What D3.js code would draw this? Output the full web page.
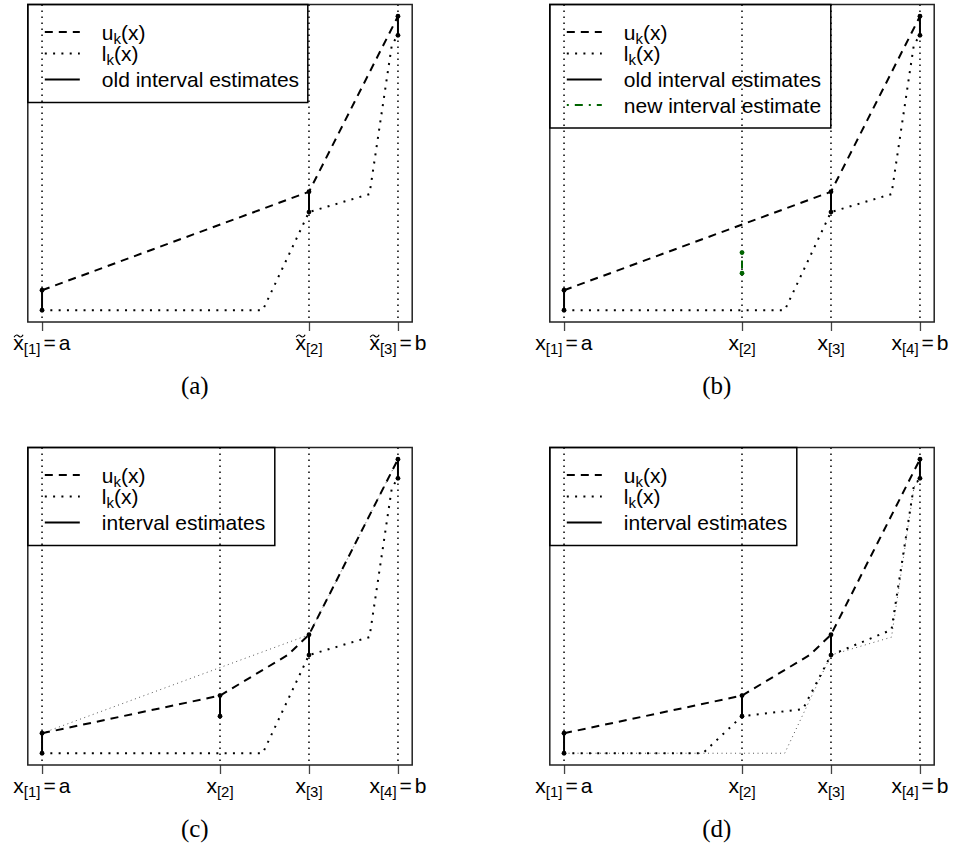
<!DOCTYPE html>
<html>
<head>
<meta charset="utf-8">
<script src="https://cdn.jsdelivr.net/npm/d3@7"></script>
<style>
  body { margin: 0; background: #fff; }
  text { font-family: "Liberation Sans", Arial, sans-serif; fill: #000; }
</style>
</head>
<body>
<div id="chart"></div>
<script>
// design points (a = 0, b = 1)
const xTicks3 = [0, 0.75, 1];
const xTicks4 = [0, 0.5, 0.75, 1];
const tickSubs3 = ["1", "2", "3"];
const tickEnds3 = ["a", "", "b"];
const tickSubs4 = ["1", "2", "3", "4"];
const tickEnds4 = ["a", "", "", "b"];

// interval estimates
const oldIntX = [0, 0.75, 1];
const oldIntLow = [0, 0.334, 0.935];
const oldIntUp = [0.068, 0.403, 1];
const newIntX = [0.5];
const newIntLow = [0.126];
const newIntUp = [0.196];

// upper bound u_k(x)
const uOldX = [0, 0.75, 1];
const uOldY = [0.068, 0.403, 1];
const uNewX = [0, 0.5, 0.69, 0.75, 1];
const uNewY = [0.068, 0.196, 0.334, 0.403, 1];

// lower bound l_k(x)
const lOldX = [0, 0.62, 0.75, 0.92, 0.983, 1];
const lOldY = [0, 0, 0.334, 0.395, 0.904, 0.935];
const lNewX = [0, 0.39, 0.5, 0.671, 0.75, 0.92, 0.983, 1];
const lNewY = [0, 0, 0.126, 0.150, 0.334, 0.42, 0.91, 0.935];

const zip = (xs, ys) => xs.map((x, i) => ({x: x, y: ys[i]}));
const ints = (xs, lo, up, col) => xs.map((x, i) => ({x: x, lo: lo[i], up: up[i], col: col}));

const uOld = zip(uOldX, uOldY), uNew = zip(uNewX, uNewY);
const lOld = zip(lOldX, lOldY), lNew = zip(lNewX, lNewY);

const GREEN = "#006400";

const styles = {
    dashed: {w: 2, dash: "8,6", col: "#000"},
    dotted: {w: 2, dash: "2,6.3", col: "#000"},
    faint: {w: 1, dash: "1,3.5", col: "#555"},
    solid: {w: 2, dash: null, col: "#000"},
    dotdash: {w: 2, dash: "2,6,8,6", col: GREEN}
};

const legendU = {main: "u", sub: "k", rest: "(x)", style: "dashed"};
const legendL = {main: "l", sub: "k", rest: "(x)", style: "dotted"};

const panels = [
    {cap: "(a)", col: 0, row: 0, ticks: xTicks3, subs: tickSubs3, ends: tickEnds3, tilde: true,
     u: uOld, l: lOld, faint: null, intervals: ints(oldIntX, oldIntLow, oldIntUp, "#000"),
     legendW: 280, legend: [legendU, legendL, {main: "old interval estimates", style: "solid"}]},
    {cap: "(b)", col: 1, row: 0, ticks: xTicks4, subs: tickSubs4, ends: tickEnds4, tilde: false,
     u: uOld, l: lOld, faint: null,
     intervals: ints(oldIntX, oldIntLow, oldIntUp, "#000").concat(ints(newIntX, newIntLow, newIntUp, GREEN)),
     legendW: 281, legend: [legendU, legendL, {main: "old interval estimates", style: "solid"},
                            {main: "new interval estimate", style: "dotdash"}]},
    {cap: "(c)", col: 0, row: 1, ticks: xTicks4, subs: tickSubs4, ends: tickEnds4, tilde: false,
     u: uNew, l: lOld, faint: uOld,
     intervals: ints(oldIntX, oldIntLow, oldIntUp, "#000").concat(ints(newIntX, newIntLow, newIntUp, "#000")),
     legendW: 247, legend: [legendU, legendL, {main: "interval estimates", style: "solid"}]},
    {cap: "(d)", col: 1, row: 1, ticks: xTicks4, subs: tickSubs4, ends: tickEnds4, tilde: false,
     u: uNew, l: lNew, faint: lOld,
     intervals: ints(oldIntX, oldIntLow, oldIntUp, "#000").concat(ints(newIntX, newIntLow, newIntUp, "#000")),
     legendW: 247, legend: [legendU, legendL, {main: "interval estimates", style: "solid"}]}
];

const W = 958, H = 846;
const plotW = 384.4, plotH = 317.5;
const legendRows = [27.5, 49, 75, 100.5];

const svg = d3.select("#chart")
    .append("svg")
    .attr("width", W)
    .attr("height", H)
    .style("background", "#fff");

function applyStyle(sel, st) {
    sel.attr("fill", "none")
        .attr("stroke", styles[st].col)
        .attr("stroke-width", styles[st].w);
    if (styles[st].dash) sel.attr("stroke-dasharray", styles[st].dash);
    return sel;
}

panels.forEach(p => {
    const left = 27.8 + p.col * 522, top = 4.5 + p.row * 443;
    const g = svg.append("g").attr("transform", `translate(${left},${top})`);

    const x = d3.scaleLinear().domain([-0.04, 1.04]).range([0, plotW]);
    const y = d3.scaleLinear().domain([-0.04, 1.04]).range([plotH, 0]);
    const line = d3.line().x(d => x(d.x)).y(d => y(d.y));

    // vertical dotted lines at design points
    g.selectAll(".vline")
        .data(p.ticks)
        .enter()
        .append("line")
        .attr("x1", d => x(d)).attr("x2", d => x(d))
        .attr("y1", 0).attr("y2", plotH)
        .attr("stroke", "#000")
        .attr("stroke-width", 1.5)
        .attr("stroke-dasharray", "1.5,4.5");

    // x axis ticks
    const axis = g.append("g")
        .attr("transform", `translate(0,${plotH})`)
        .call(d3.axisBottom(x).tickValues(p.ticks).tickSize(9).tickFormat(""));
    axis.select(".domain").remove();
    axis.selectAll(".tick line").attr("stroke", "#444").attr("stroke-width", 1.3);

    // tick labels with subscripts
    p.ticks.forEach((v, i) => {
        const cx = x(v);
        const t = g.append("text").attr("y", plotH + 28).attr("font-size", 21);
        t.append("tspan").text("x");
        t.append("tspan").attr("font-size", 15).attr("dy", 4).text("[" + p.subs[i] + "]");
        if (p.ends[i]) {
            t.append("tspan").attr("dy", -4).attr("dx", 3).text("=");
            t.append("tspan").attr("dx", 3).text(p.ends[i]);
        }
        const w = t.node().getBBox().width;
        t.attr("x", cx - w / 2);
        if (p.tilde) {
            // tilde accent over the x, drawn as a small wave
            const xw = t.node().getSubStringLength(0, 1);
            const tx = cx - w / 2 + xw / 2, ty = plotH + 14;
            g.append("path")
                .attr("d", `M${tx - 4.5},${ty + 1.2} C${tx - 2.5},${ty - 2.5} ${tx - 0.5},${ty - 0.5} ${tx},${ty}` +
                           ` S${tx + 2.5},${ty + 2.5} ${tx + 4.5},${ty - 1.2}`)
                .attr("fill", "none")
                .attr("stroke", "#000")
                .attr("stroke-width", 1.2);
        }
    });

    // faint previous bound
    if (p.faint) {
        applyStyle(g.append("path").datum(p.faint).attr("d", line), "faint");
    }

    // bounds
    applyStyle(g.append("path").datum(p.l).attr("d", line), "dotted");
    applyStyle(g.append("path").datum(p.u).attr("d", line), "dashed");

    // interval estimates
    p.intervals.forEach(d => {
        const seg = g.append("line")
            .attr("x1", x(d.x)).attr("x2", x(d.x))
            .attr("y1", y(d.up)).attr("y2", y(d.lo));
        applyStyle(seg, d.col === GREEN ? "dotdash" : "solid");
        g.selectAll(null)
            .data([d.lo, d.up])
            .enter()
            .append("circle")
            .attr("cx", x(d.x))
            .attr("cy", v => y(v))
            .attr("r", 2.4)
            .attr("fill", d.col);
    });

    // box
    g.append("rect")
        .attr("width", plotW).attr("height", plotH)
        .attr("fill", "none")
        .attr("stroke", "#222")
        .attr("stroke-width", 1.5);

    // legend
    const lg = g.append("g");
    lg.append("rect")
        .attr("width", p.legendW)
        .attr("height", legendRows[p.legend.length - 1] + 23)
        .attr("fill", "none")
        .attr("stroke", "#000")
        .attr("stroke-width", 1.5);
    p.legend.forEach((item, i) => {
        const ly = legendRows[i];
        applyStyle(lg.append("line").attr("x1", 17).attr("x2", 52).attr("y1", ly).attr("y2", ly), item.style);
        const t = lg.append("text").attr("x", 74).attr("y", ly + 7.5).attr("font-size", 21);
        t.append("tspan").text(item.main);
        if (item.sub) {
            t.append("tspan").attr("font-size", 15).attr("dy", 4).text(item.sub);
            t.append("tspan").attr("dy", -4).text(item.rest);
        }
    });

    // caption
    svg.append("text")
        .attr("x", left + 167)
        .attr("y", top + 389)
        .attr("text-anchor", "middle")
        .style("font-family", "'Liberation Serif', 'Times New Roman', serif")
        .attr("font-size", 25)
        .text(p.cap);
});
</script>
</body>
</html>
